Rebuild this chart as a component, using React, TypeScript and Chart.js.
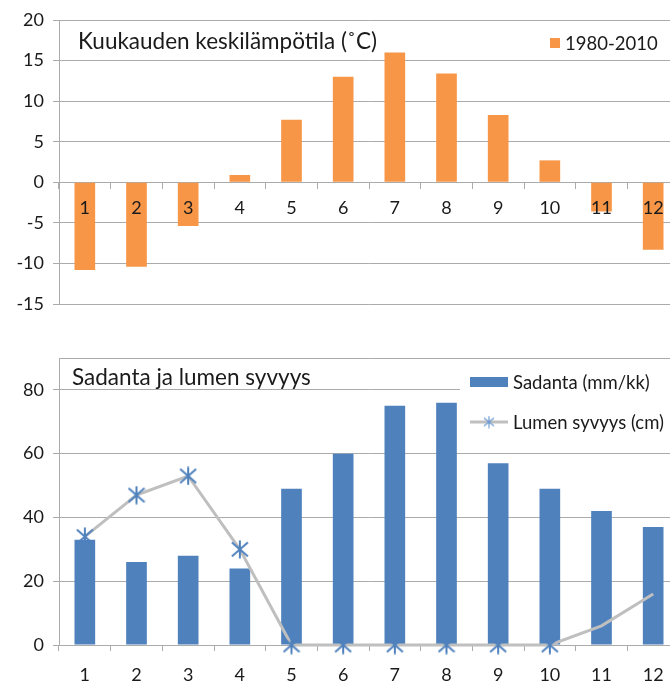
import React, { useEffect, useRef } from "react";
import { Chart, registerables } from "chart.js";

Chart.register(...registerables);

// ---- data ----
const months = ["1", "2", "3", "4", "5", "6", "7", "8", "9", "10", "11", "12"];
const tempValues = [-10.8, -10.4, -5.4, 0.9, 7.7, 13.0, 16.0, 13.4, 8.3, 2.7, -3.6, -8.3];
const tempRange = [-15, 20];
const tempStep = 5;
const precipValues = [33, 26, 28, 24, 49, 60, 75, 76, 57, 49, 42, 37];
const snowValues = [34, 47, 53, 30, 0, 0, 0, 0, 0, 0, 6, 16];
const precipTicks = [0, 20, 40, 60, 80];
const precipMax = 90;

const tempTitle = "Kuukauden keskilämpötila (˚C)";
const precipTitle = "Sadanta ja lumen syvyys";
const tempLabel = "1980-2010";
const precipLabel = "Sadanta (mm/kk)";
const snowLabel = "Lumen syvyys (cm)";

// ---- styles ----
const FONT = "Lato";
const TEXT = "#1a1a1a";
const GRID = "#ababab";
const ORANGE = "#F79646";
const BLUE = "#4F81BD";
const LINE = "#BFBFBF";

function makeStar(w: number, h: number, color: string, lw: number) {
  const c = document.createElement("canvas");
  c.width = w;
  c.height = h;
  const g = c.getContext("2d")!;
  g.strokeStyle = color;
  g.lineWidth = lw;
  const mx = w / 2;
  const my = h / 2;
  const dx = w / 2 - 1;
  const dy = h / 2 - 2.5;
  g.beginPath();
  g.moveTo(mx, 0.5);
  g.lineTo(mx, h - 0.5);
  g.moveTo(mx - dx, my - dy);
  g.lineTo(mx + dx, my + dy);
  g.moveTo(mx + dx, my - dy);
  g.lineTo(mx - dx, my + dy);
  g.stroke();
  return c;
}

const overlayPlugin = {
  id: "overlay",
  afterDraw(chart: any, _args: any, opts: any) {
    const ctx = chart.ctx as CanvasRenderingContext2D;
    ctx.save();
    if (opts.box) {
      ctx.fillStyle = "#ffffff";
      ctx.fillRect(opts.box[0], opts.box[1], opts.box[2], opts.box[3]);
    }
    ctx.fillStyle = TEXT;
    ctx.font = `22.5px ${FONT}`;
    ctx.textBaseline = "alphabetic";
    ctx.textAlign = "left";
    ctx.fillText(opts.title, opts.titleX, opts.titleY);
    (opts.items || []).forEach((it: any, i: number) => {
      const ds = chart.data.datasets[i];
      if (it.kind === "rect") {
        ctx.fillStyle = ds.backgroundColor;
        ctx.fillRect(it.x, it.y - it.h / 2, it.w, it.h);
      } else if (it.kind === "line") {
        ctx.strokeStyle = ds.borderColor;
        ctx.lineWidth = 3;
        ctx.beginPath();
        ctx.moveTo(it.x, it.y);
        ctx.lineTo(it.x + it.w, it.y);
        ctx.stroke();
        if (it.img) ctx.drawImage(it.img, it.x + it.w / 2 - it.img.width / 2, it.y - it.img.height / 2);
      }
      ctx.fillStyle = TEXT;
      ctx.font = `18.5px ${FONT}`;
      ctx.textBaseline = "middle";
      ctx.fillText(ds.label, it.x + it.w + 5, it.y + 1);
    });
    ctx.restore();
  },
};

export default function App() {
  const topRef = useRef<HTMLCanvasElement>(null);
  const botRef = useRef<HTMLCanvasElement>(null);

  useEffect(() => {
    const tickFont = { family: FONT, size: 18 };
    const star = makeStar(18, 19, BLUE, 2);
    const legendStar = makeStar(12, 13, "#6f9bd3", 1.2);

    const top = new Chart(topRef.current!, {
      type: "bar",
      data: {
        labels: months,
        datasets: [
          {
            label: tempLabel,
            data: tempValues,
            backgroundColor: ORANGE,
            barPercentage: 0.4,
            categoryPercentage: 1,
          },
        ],
      },
      options: {
        animation: false,
        responsive: false,
        layout: { padding: { top: 20, bottom: 26, left: 0, right: 21 } },
        plugins: {
          legend: { display: false },
          tooltip: { enabled: false },
          overlay: {
            title: tempTitle,
            titleX: 78,
            titleY: 49,
            items: [{ kind: "rect", x: 550, y: 43, w: 10, h: 10 }],
          },
        } as any,
        scales: {
          x: {
            position: { y: 0 } as any,
            grid: { drawOnChartArea: false, drawTicks: true, tickLength: 6, color: GRID, offset: true },
            border: { display: true, color: GRID },
            ticks: { font: tickFont, color: TEXT, padding: 9, z: 1 } as any,
          },
          y: {
            min: tempRange[0],
            max: tempRange[1],
            ticks: { stepSize: tempStep, font: tickFont, color: TEXT, padding: 9 },
            grid: { color: GRID, tickLength: 6 },
            border: { color: GRID },
            afterFit: (s: any) => {
              s.width = 59;
            },
          },
        },
      },
      plugins: [overlayPlugin as any],
    });

    const bot = new Chart(botRef.current!, {
      type: "bar",
      data: {
        labels: months,
        datasets: [
          {
            type: "bar",
            label: precipLabel,
            data: precipValues,
            backgroundColor: BLUE,
            barPercentage: 0.4,
            categoryPercentage: 1,
            order: 2,
          },
          {
            type: "line",
            label: snowLabel,
            data: snowValues,
            borderColor: LINE,
            borderWidth: 3,
            pointStyle: star as any,
            pointRadius: (c: any) => (c.dataIndex >= 10 ? 0 : 8),
            tension: 0,
            clip: false as any,
            order: 1,
          } as any,
        ],
      },
      options: {
        animation: false,
        responsive: false,
        layout: { padding: { top: 28, bottom: 0, left: 0, right: 21 } },
        plugins: {
          legend: { display: false },
          tooltip: { enabled: false },
          overlay: {
            title: precipTitle,
            titleX: 72,
            titleY: 55,
            box: [460, 30, 260, 82],
            items: [
              { kind: "rect", x: 470, y: 52, w: 38, h: 10 },
              { kind: "line", x: 470, y: 92, w: 38, img: legendStar },
            ],
          },
        } as any,
        scales: {
          x: {
            grid: { drawOnChartArea: false, tickLength: 6, color: GRID, offset: true },
            border: { color: GRID },
            ticks: { font: tickFont, color: TEXT, padding: 13 },
            afterFit: (s: any) => {
              s.height = 36;
            },
          },
          y: {
            min: 0,
            max: precipMax,
            afterBuildTicks: (s: any) => {
              s.ticks = [...precipTicks, precipMax].map((v) => ({ value: v }));
            },
            ticks: {
              font: tickFont,
              color: TEXT,
              padding: 9,
              callback: (v: any) => (precipTicks.includes(Number(v)) ? String(v) : ""),
            },
            grid: {
              color: GRID,
              tickLength: 6,
              tickColor: (c: any) => (c.tick && c.tick.value === precipMax ? "rgba(0,0,0,0)" : GRID),
            },
            border: { color: GRID },
            afterFit: (s: any) => {
              s.width = 59;
            },
          },
        },
      },
      plugins: [overlayPlugin as any],
    });

    return () => {
      top.destroy();
      bot.destroy();
    };
  }, []);

  return (
    <div
      style={{
        position: "fixed",
        left: 0,
        top: 0,
        width: 670,
        height: 681,
        overflow: "hidden",
        background: "#ffffff",
      }}
    >
      <canvas
        ref={topRef}
        width={700}
        height={330}
        style={{ position: "absolute", left: 0, top: 0, display: "block" }}
      />
      <canvas
        ref={botRef}
        width={700}
        height={351}
        style={{ position: "absolute", left: 0, top: 330, display: "block" }}
      />
    </div>
  );
}
